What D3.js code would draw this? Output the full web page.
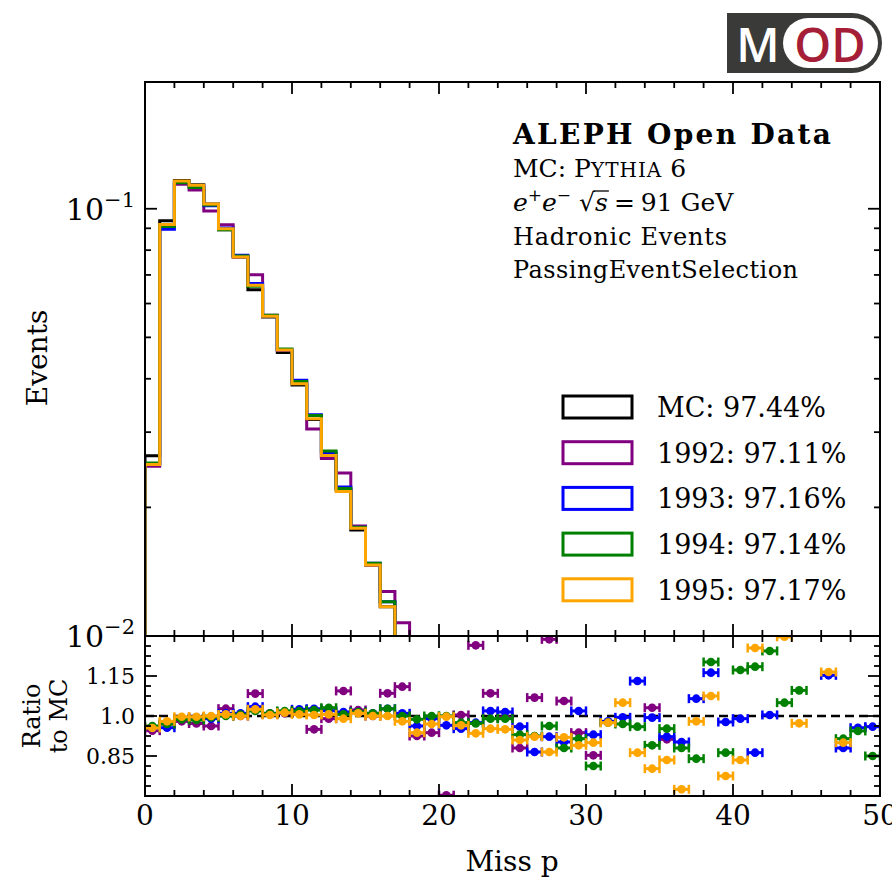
<!DOCTYPE html>
<html><head><meta charset="utf-8">
<script src="https://cdn.jsdelivr.net/npm/d3@7"></script>
<style>
body{margin:0;background:#fff}
svg{display:block}
text{font-family:"DejaVu Serif",serif;fill:#000}
</style>
</head><body>
<svg id="c" width="892" height="877"></svg>
<script>
// ---------------- data ----------------
const binLeft = [0,1,2,3,4,5,6,7,8,9,10,11,12,13,14,15,16,17,18,19,20,21,22,23,24,25,26,27,28,29,30,31,32,33,34,35,36,37,38,39,40,41,42,43,44,45,46,47,48,49];
const binWidth = 1;
const xTicks = [0,10,20,30,40,50];
const yTicksMain = [0.01, 0.1];
const yTickLabelsMain = [["10","−2"],["10","−1"]];
const ratioTicks = [0.85, 1.0, 1.15];
const ratioTickLabels = ["0.85","1.0","1.15"];

// normalised event counts per bin (bins 0..19; the rest lie below the visible range)
const mcEvents   = [0.0264,0.0937,0.1165,0.1138,0.1026,0.0893,0.0771,0.0646,0.0558,0.0461,0.0387,0.0321,0.0263,0.0220,0.0177,0.01466,0.01171,0.00968,0.0079,0.0064];
const events1992 = [0.02495,0.09089,0.11417,0.11061,0.09875,0.09176,0.0771,0.07003,0.05636,0.04656,0.03928,0.0305,0.02604,0.02407,0.0181,0.01466,0.01271,0.01074,0.00731,0.0060];
const events1993 = [0.02521,0.08958,0.11534,0.11323,0.10157,0.09019,0.07787,0.06686,0.05613,0.04679,0.03967,0.03297,0.02683,0.02233,0.01797,0.01481,0.01203,0.00978,0.0076,0.00634];
const events1994 = [0.02541,0.09089,0.11504,0.11209,0.10209,0.0893,0.07749,0.06583,0.05636,0.04698,0.03944,0.03281,0.02712,0.02213,0.01797,0.01481,0.01203,0.00968,0.0078,0.0064];
const events1995 = [0.02521,0.09183,0.11615,0.11346,0.1026,0.08984,0.0771,0.06622,0.05602,0.04668,0.03893,0.03223,0.02646,0.02178,0.01788,0.01466,0.01171,0.00949,0.00741,0.00621];

// ratio to MC per bin (null = outside the shown range)
const ratio1992 = [0.945,0.97,0.98,0.972,0.9625,1.0275,1.0,1.084,1.01,1.01,1.015,0.95,0.99,1.094,1.0225,1.0,1.085,1.11,0.925,0.9375,0.703,1.004,1.265,1.085,0.995,0.88,1.069,1.2875,1.056,0.9375,0.8525,null,null,null,1.031,0.9125,null,null,null,null,null,null,null,null,null,null,null,null,null,null];
const ratio1993 = [0.955,0.956,0.99,0.995,0.99,1.01,1.01,1.035,1.006,1.015,1.025,1.027,1.02,1.015,1.015,1.01,1.027,1.01,0.9625,0.99,0.965,0.9525,0.975,1.019,1.015,0.96,0.865,0.9225,0.9025,1.019,0.93,0.98,0.995,1.131,0.994,0.9225,0.9025,1.065,1.1625,0.9775,0.99,0.8625,1.004,null,null,null,1.1525,0.88,0.956,0.96];
const ratio1994 = [0.9625,0.97,0.9875,0.985,0.995,1.0,1.005,1.019,1.01,1.019,1.019,1.022,1.031,1.006,1.015,1.01,1.027,1.0,0.9875,1.0,1.0,0.975,0.972,0.99,0.99,0.93,0.925,0.9625,0.88,0.915,0.8125,0.975,0.97,0.96,0.89,0.9525,0.88,0.84,1.2025,0.8625,1.1725,1.185,1.244,1.05,1.096,null,null,0.915,0.944,0.85];
const ratio1995 = [0.955,0.98,0.997,0.997,1.0,1.006,1.0,1.025,1.004,1.0125,1.006,1.004,1.006,0.99,1.01,1.0,1.0,0.98,0.9375,0.97,0.9975,0.965,0.935,0.9525,0.95,0.91,0.9225,0.865,0.92,0.89,0.9,0.975,1.05,0.8625,0.8025,0.835,0.725,0.98,1.075,0.775,0.835,1.255,null,1.297,0.9725,null,1.165,0.9,null,null];

const seriesNames  = ["MC","1992","1993","1994","1995"];
const seriesPct    = ["97.44%","97.11%","97.16%","97.14%","97.17%"];
const seriesColors = ["#000000","#800080","#0000ff","#008000","#ffa500"];
const seriesEvents = [mcEvents, events1992, events1993, events1994, events1995];
const seriesRatios = [null, ratio1992, ratio1993, ratio1994, ratio1995];

// ---------------- layout ----------------
const L = 145, R = 880, T = 82, MB = 636, RB = 796;
const svg = d3.select("#c");
const x  = d3.scaleLinear().domain([0, 50]).range([L, R]);
const y  = d3.scaleLog().domain([0.01, 0.198]).range([MB, T]);
const yr = d3.scaleLinear().domain([0.7, 1.3]).range([RB, MB]);

const defs = svg.append("defs");
defs.append("clipPath").attr("id","clipMain").append("rect").attr("x",L).attr("y",T).attr("width",R-L).attr("height",MB-T);
defs.append("clipPath").attr("id","clipRatio").append("rect").attr("x",L).attr("y",MB).attr("width",R-L).attr("height",RB-MB);

// ---------------- main histogram ----------------
const gMain = svg.append("g").attr("clip-path","url(#clipMain)");
const line = d3.line().x(d => x(d[0])).y(d => y(d[1]));
seriesEvents.forEach((vals, s) => {
  const pts = [[binLeft[0], 0.01]];
  vals.forEach((v, i) => { pts.push([binLeft[i], v]); pts.push([binLeft[i] + binWidth, v]); });
  pts.push([binLeft[vals.length - 1] + binWidth, 0.001]);
  gMain.append("path").attr("d", line(pts)).attr("fill","none")
    .attr("stroke", seriesColors[s]).attr("stroke-width", 3).attr("stroke-linejoin","miter");
});

// ---------------- ratio panel ----------------
const gRatio = svg.append("g").attr("clip-path","url(#clipRatio)");
gRatio.append("line").attr("x1",L).attr("x2",R).attr("y1",yr(1)).attr("y2",yr(1))
  .attr("stroke","#000").attr("stroke-width",2.5).attr("stroke-dasharray","9,5");
seriesRatios.forEach((vals, s) => {
  if (!vals) return;
  const col = seriesColors[s];
  vals.forEach((r, i) => {
    if (r === null) return;
    const x0 = x(binLeft[i]), x1 = x(binLeft[i] + binWidth), yy = yr(r);
    gRatio.append("line").attr("x1",x0).attr("x2",x1).attr("y1",yy).attr("y2",yy).attr("stroke",col).attr("stroke-width",3);
    [x0, x1].forEach(xc => gRatio.append("line").attr("x1",xc).attr("x2",xc).attr("y1",yy-4.5).attr("y2",yy+4.5).attr("stroke",col).attr("stroke-width",2.5));
    gRatio.append("circle").attr("cx",(x0+x1)/2).attr("cy",yy).attr("r",4.3).attr("fill",col);
  });
});

// ---------------- frames & ticks ----------------
const gAx = svg.append("g").attr("stroke","#000").attr("stroke-width",1.8);
function tick(x1,y1,x2,y2){ gAx.append("line").attr("x1",x1).attr("y1",y1).attr("x2",x2).attr("y2",y2); }
const MAJ = 12, MIN = 6;
for (let v = 0; v <= 50; v += 2) {
  const len = (v % 10 === 0) ? MAJ : MIN, xx = x(v);
  tick(xx, T, xx, T + len); tick(xx, MB, xx, MB - len);
  tick(xx, MB, xx, MB + len); tick(xx, RB, xx, RB - len);
}
[0.01,0.02,0.03,0.04,0.05,0.06,0.07,0.08,0.09,0.1].forEach(v => {
  const len = yTicksMain.includes(v) ? MAJ : MIN, yy = y(v);
  tick(L, yy, L + len, yy); tick(R, yy, R - len, yy);
});
for (let k = 1; k < 16; k++) {
  const v = 0.7 + 0.0375 * k, yy = yr(v);
  const isMaj = ratioTicks.some(t => Math.abs(t - v) < 1e-6);
  const len = isMaj ? MAJ : MIN;
  tick(L, yy, L + len, yy); tick(R, yy, R - len, yy);
}
svg.append("rect").attr("x",L).attr("y",T).attr("width",R-L).attr("height",MB-T).attr("fill","none").attr("stroke","#000").attr("stroke-width",2);
svg.append("rect").attr("x",L).attr("y",MB).attr("width",R-L).attr("height",RB-MB).attr("fill","none").attr("stroke","#000").attr("stroke-width",2);

// ---------------- tick labels ----------------
xTicks.forEach(v => svg.append("text").attr("x", x(v)).attr("y", 825).attr("text-anchor","middle").attr("font-size",28).text(v));
yTicksMain.forEach((v, i) => {
  const t = svg.append("text").attr("x", 135).attr("y", y(v) + 11).attr("text-anchor","end").attr("font-size",30);
  t.append("tspan").text(yTickLabelsMain[i][0]);
  t.append("tspan").attr("dy",-13).attr("font-size",21).text(yTickLabelsMain[i][1]);
});
ratioTicks.forEach((v, i) => svg.append("text").attr("x", 135).attr("y", yr(v) + 8).attr("text-anchor","end").attr("font-size",22).text(ratioTickLabels[i]));

// ---------------- axis titles ----------------
svg.append("text").attr("transform","translate(47,358) rotate(-90)").attr("text-anchor","middle").attr("font-size",28).text("Events");
svg.append("text").attr("transform","translate(40,716) rotate(-90)").attr("text-anchor","middle").attr("font-size",24).text("Ratio");
svg.append("text").attr("transform","translate(67,716) rotate(-90)").attr("text-anchor","middle").attr("font-size",24).text("to MC");
svg.append("text").attr("x",512).attr("y",871).attr("text-anchor","middle").attr("font-size",28).text("Miss p");

// ---------------- info text ----------------
const tx = 513;
svg.append("text").attr("x",tx).attr("y",144).attr("font-size",28).attr("font-weight","bold")
  .attr("textLength",318).attr("lengthAdjust","spacing").text("ALEPH Open Data");
const t2 = svg.append("text").attr("x",tx).attr("y",177).attr("font-size",25);
t2.append("tspan").text("MC: P");
t2.append("tspan").attr("font-size",20).attr("letter-spacing",1).text("YTHIA");
t2.append("tspan").text(" 6");
const t3 = svg.append("text").attr("x",tx).attr("y",211).attr("font-size",25);
t3.append("tspan").attr("font-style","italic").text("e");
t3.append("tspan").attr("dy",-10).attr("font-size",17).text("+");
t3.append("tspan").attr("dy",10).attr("font-style","italic").text("e");
t3.append("tspan").attr("dy",-10).attr("font-size",17).text("−");
t3.append("tspan").attr("dy",10).attr("dx",8).text("√");
t3.append("tspan").attr("font-style","italic").text("s");
t3.append("tspan").attr("dx",6).text("=");
t3.append("tspan").attr("dx",6).text("91 GeV");
(function(){
  const node = t3.node();
  const str = node.textContent;
  const iRoot = str.indexOf("√"), iS = str.indexOf("s", iRoot);
  const eR = node.getExtentOfChar(iRoot), eS = node.getExtentOfChar(iS);
  const yTop = eR.y + 3;
  svg.append("line").attr("x1", eR.x + eR.width - 1.5).attr("x2", eS.x + eS.width + 1)
    .attr("y1", yTop).attr("y2", yTop).attr("stroke","#000").attr("stroke-width",1.3);
})();
svg.append("text").attr("x",tx).attr("y",245).attr("font-size",24).attr("textLength",214).attr("lengthAdjust","spacing").text("Hadronic Events");
svg.append("text").attr("x",tx).attr("y",278).attr("font-size",24).attr("textLength",285).attr("lengthAdjust","spacing").text("PassingEventSelection");

// ---------------- legend ----------------
const legY0 = 407, legDy = 45.7;
seriesNames.forEach((n, i) => {
  const cy = legY0 + i * legDy;
  svg.append("rect").attr("x",563).attr("y",cy-11).attr("width",69).attr("height",22)
    .attr("fill","none").attr("stroke",seriesColors[i]).attr("stroke-width",3);
  svg.append("text").attr("x",657).attr("y",cy+10).attr("font-size",27).text(n + ": " + seriesPct[i]);
});

// ---------------- MOD logo ----------------
const gl = svg.append("g");
gl.append("path").attr("d","M727,13 H852 A30,30 0 0 1 852,73 H727 Z").attr("fill","#3a3b39");
gl.append("rect").attr("x",783).attr("y",18).attr("width",95).attr("height",50).attr("rx",25).attr("fill","#fff");
gl.append("text").attr("x",758).attr("y",62).attr("text-anchor","middle").style("font-family","'Open Sans',sans-serif")
  .attr("font-size",47).attr("font-weight",600).style("fill","#fff").text("M");
gl.append("text").attr("x",830).attr("y",62).attr("text-anchor","middle").style("font-family","'Open Sans',sans-serif")
  .attr("font-size",47).attr("font-weight",600).style("fill","#a51d36").text("OD");
</script>
</body></html>
